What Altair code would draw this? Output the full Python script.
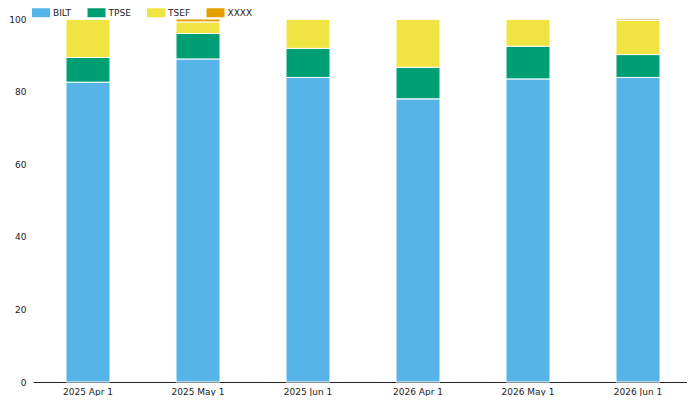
import altair as alt
import pandas as pd

dates = ["2025 Apr 1", "2025 May 1", "2025 Jun 1", "2026 Apr 1", "2026 May 1", "2026 Jun 1"]
series = ["BILT", "TPSE", "TSEF", "XXXX"]
colors = ["#56B4E9", "#009E73", "#F0E442", "#E69F00"]
BILT = [82.6, 89.0, 83.9, 78.0, 83.5, 83.9]
TPSE = [6.8, 7.0, 8.0, 8.7, 9.0, 6.3]
TSEF = [10.6, 3.2, 8.1, 13.3, 7.5, 9.4]
XXXX = [0.0, 0.8, 0.0, 0.0, 0.0, 0.4]

values = {"BILT": BILT, "TPSE": TPSE, "TSEF": TSEF, "XXXX": XXXX}
rows = []
for i, d in enumerate(dates):
    for k, s in enumerate(series):
        rows.append({"date": d, "series": s, "value": values[s][i], "ord": k})
df = pd.DataFrame(rows)

FONT = "DejaVu Sans"

chart = alt.Chart(df).mark_bar(stroke="white", strokeWidth=1).encode(
    x=alt.X("date:N", sort=dates, title=None,
            scale=alt.Scale(paddingInner=0.6, paddingOuter=0.3),
            axis=alt.Axis(labelAngle=0, ticks=False, domainColor="#222222",
                          labelFont=FONT, labelFontSize=9, labelColor="#222222",
                          labelPadding=5)),
    y=alt.Y("value:Q", stack="zero", title=None,
            scale=alt.Scale(domain=[0, 100], nice=False),
            axis=alt.Axis(values=[0, 20, 40, 60, 80, 100], grid=False, domain=False,
                          ticks=False, labelFont=FONT, labelFontSize=9,
                          labelColor="#222222", labelPadding=7)),
    color=alt.Color("series:N", sort=series, title=None,
                    scale=alt.Scale(domain=series, range=colors),
                    legend=alt.Legend(orient="none", direction="horizontal",
                                      legendX=3.5, legendY=-11, padding=0,
                                      symbolType="M-2,-1H2V1H-2Z",
                                      symbolSize=81, symbolStrokeWidth=0,
                                      labelFont=FONT, labelFontSize=9,
                                      labelColor="#222222", labelOffset=7.5,
                                      columnPadding=15.5)),
    order=alt.Order("ord:Q", sort="ascending"),
).properties(
    width=660, height=363,
    autosize=alt.AutoSizeParams(type="none"),
    padding={"left": 25, "top": 11, "right": -6, "bottom": 14},
).configure_view(stroke=None)

chart.save("out.html", embed_options={"renderer": "svg", "actions": False})
